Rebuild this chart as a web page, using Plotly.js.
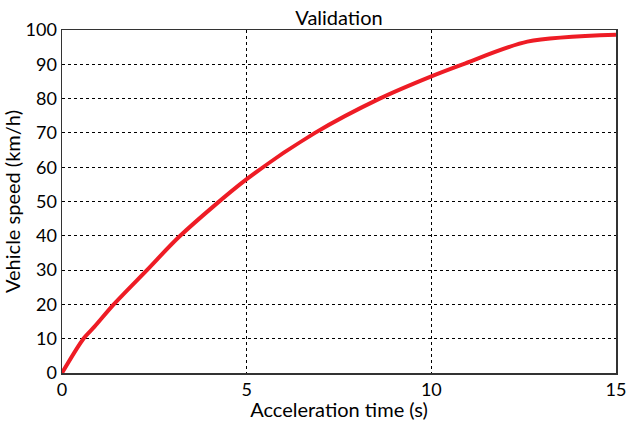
<!DOCTYPE html>
<html>
<head>
<meta charset="utf-8">
<script src="https://cdn.plot.ly/plotly-3.0.1.min.js"></script>
<style>html,body{margin:0;padding:0;background:#fff;}#chart{width:628px;height:421px;}</style>
</head>
<body>
<div id="chart"></div>
<script>
const timeS = [0, 0.58, 0.88, 1.4, 2.3, 3.2, 5.0, 6.85, 8.6, 10.0, 10.85, 12.6, 15];
const speedKmh = [0, 10, 13.5, 20, 30, 40, 56.5, 70, 80, 86.5, 90, 96.6, 98.6];
const xTicks = [0, 5, 10, 15];
const yTicks = [0, 10, 20, 30, 40, 50, 60, 70, 80, 90, 100];

const fam = 'Lato, "Open Sans", sans-serif';
Plotly.newPlot('chart', [{
  x: timeS, y: speedKmh, type: 'scatter', mode: 'lines',
  line: {color: '#ee1c25', width: 4, shape: 'spline', smoothing: 0.8}
}], {
  width: 628, height: 421,
  margin: {l: 62, r: 12, t: 30, b: 48},
  paper_bgcolor: '#fff', plot_bgcolor: '#fff',
  font: {family: fam, size: 18, color: '#000'},
  showlegend: false,
  title: {text: 'Validation', font: {family: fam, size: 20, color: '#000'}, xref: 'paper', x: 0.5, xanchor: 'center', yref: 'container', y: 0.975, yanchor: 'top'},
  xaxis: {
    range: [0, 15], tickvals: xTicks, ticktext: xTicks.map(String),
    showgrid: true, gridcolor: '#000', griddash: 'dot', gridwidth: 1,
    showline: true, linecolor: '#333', linewidth: 1.5, mirror: true,
    zeroline: false, ticks: '', ticklen: 0,
    tickfont: {family: fam, size: 18, color: '#000'},
    title: {text: 'Acceleration time (s)', font: {family: fam, size: 20, color: '#000'}, standoff: 0}
  },
  yaxis: {
    range: [0, 100], tickvals: yTicks, ticktext: yTicks.map(String),
    showgrid: true, gridcolor: '#000', griddash: 'dot', gridwidth: 1,
    showline: true, linecolor: '#333', linewidth: 1.5, mirror: true,
    zeroline: false, ticks: '', ticklen: 0,
    tickfont: {family: fam, size: 18, color: '#000'},
    title: {text: 'Vehicle speed (km/h)', font: {family: fam, size: 20, color: '#000'}, standoff: 4}
  }
}, {displayModeBar: false, staticPlot: true});
</script>
</body>
</html>
